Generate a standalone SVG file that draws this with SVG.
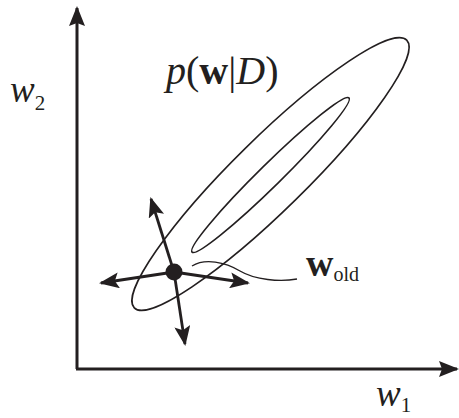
<svg xmlns="http://www.w3.org/2000/svg" width="459" height="418" viewBox="0 0 459 418">
<defs>
<style>
.axis{stroke:#231f20;stroke-width:3;fill:none}
.contour{stroke:#231f20;stroke-width:1.6;fill:none}
.vec{stroke:#231f20;stroke-width:2.8;fill:none}
.lead{stroke:#231f20;stroke-width:1.4;fill:none}
.t{font-family:"Liberation Serif","Times New Roman",serif;fill:#231f20}
</style>
<marker id="axhead" viewBox="0 0 20 16" refX="18" refY="8" markerWidth="20" markerHeight="16" markerUnits="userSpaceOnUse" orient="auto">
<path d="M0,0 L20,8 L0,16 L3,8 Z" fill="#231f20"/>
</marker>
<marker id="vhead" viewBox="0 0 20 16" refX="18" refY="8" markerWidth="20" markerHeight="16" markerUnits="userSpaceOnUse" orient="auto">
<path d="M0,0 L20,8 L0,16 L4,8 Z" fill="#231f20"/>
</marker>
</defs>
<g id="axes">
<path class="axis" d="M77,369 L77,8" marker-end="url(#axhead)"/>
<path class="axis" d="M76,369 L457,369" marker-end="url(#axhead)"/>
</g>
<g id="posterior">
<ellipse class="contour" cx="270.5" cy="174" rx="191" ry="36" transform="rotate(-44.5 270.5 174)"/>
<ellipse class="contour" cx="270.5" cy="175" rx="110" ry="11" transform="rotate(-44.5 270.5 175)"/>
</g>
<g id="connectors">
<path class="vec" d="M174,272 L151,199" marker-end="url(#vhead)"/>
<path class="vec" d="M174,272 L101,283" marker-end="url(#vhead)"/>
<path class="vec" d="M174,272 L248,283" marker-end="url(#vhead)"/>
<path class="vec" d="M174,272 L185,344" marker-end="url(#vhead)"/>
<path class="lead" d="M192,266 C205,258 225,262 240,271 S280,282 297,279"/>
</g>
<g id="wold-point">
<circle cx="174" cy="272" r="8.5" fill="#231f20"/>
</g>
<g id="labels">
<text class="t" x="10" y="102" font-size="37" font-style="italic">w<tspan font-size="21" font-style="normal" dy="8">2</tspan></text>
<text class="t" x="376" y="406" font-size="37" font-style="italic">w<tspan font-size="21" font-style="normal" dy="6">1</tspan></text>
<text class="t" x="166" y="84" font-size="40"><tspan font-style="italic">p</tspan>(<tspan font-weight="bold">w</tspan>|<tspan font-style="italic">D</tspan>)</text>
<text class="t" x="306" y="276" font-size="38" font-weight="bold">w<tspan font-size="20" font-weight="normal" dy="5">old</tspan></text>
</g>
</svg>
